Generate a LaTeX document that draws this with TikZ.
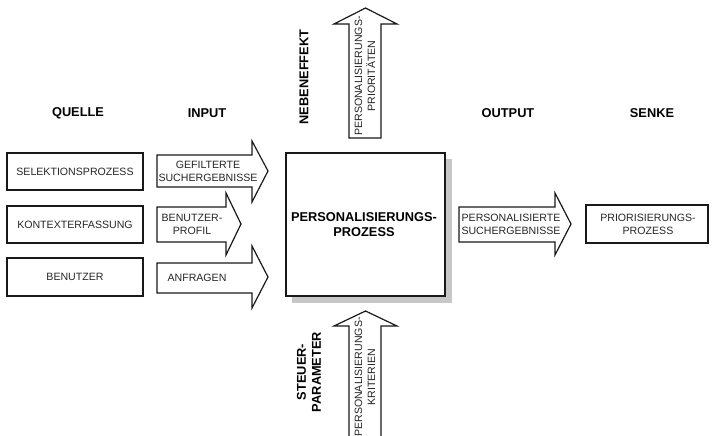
\documentclass[tikz,border=0pt]{standalone}
\usepackage{fontspec}
\setmainfont{Liberation Sans}
\begin{document}
\begin{tikzpicture}[x=1pt,y=-1pt,
  line join=miter,
  lbl/.style={font=\fontsize{10.6}{13}\selectfont, text=black!85, align=center, inner sep=0pt},
  head/.style={font=\bfseries\fontsize{12.8}{15}\selectfont, align=center, inner sep=0pt},
  srcbox/.style={draw=black!90, line width=1.2pt},
  blockarrow/.style={draw=black!90, line width=1.2pt, fill=white},
  mainbox/.style={draw=black!90, line width=2.2pt, fill=white},
  shadow/.style={fill=black!22, draw=none}]
\useasboundingbox (0,0) rectangle (713,436);

% column headings
\node[head] (hquelle) at (78,113) {QUELLE};
\node[head] (hinput)  at (207,113) {INPUT};
\node[head] (houtput) at (508,113) {OUTPUT};
\node[head] (hsenke)  at (652,113) {SENKE};
\node[head, rotate=90] (hneben) at (304,77) {NEBENEFFEKT};
\node[head, rotate=90] (hsteuer) at (309,372) {STEUER-\\PARAMETER};

% sources
\draw[srcbox] (7,153) rectangle (143,190);
\node[lbl] (sel) at (75,171.5) {SELEKTIONSPROZESS};
\draw[srcbox] (7,206) rectangle (143,243);
\node[lbl] (ktx) at (75,224.5) {KONTEXTERFASSUNG};
\draw[srcbox] (7,258) rectangle (143,296);
\node[lbl] (ben) at (75,277) {BENUTZER};

% input arrows
\draw[blockarrow] (157,155) -- (252,155) -- (252,141) -- (268,171) -- (252,202) -- (252,187) -- (157,187) -- cycle;
\node[lbl] (gef) at (208,171) {GEFILTERTE\\SUCHERGEBNISSE};
\draw[blockarrow] (157,207) -- (226,207) -- (226,193) -- (241,224) -- (226,255) -- (226,242) -- (157,242) -- cycle;
\node[lbl] (prof) at (192,224) {BENUTZER-\\PROFIL};
\draw[blockarrow] (157,263) -- (252,263) -- (252,246) -- (268,277) -- (252,308) -- (252,293) -- (157,293) -- cycle;
\node[lbl] (anf) at (197,278) {ANFRAGEN};

% central process with shadow
\fill[shadow] (292,159) rectangle (452,303);
\draw[mainbox] (286,153) rectangle (445,296);
\node[head] (proc) at (364,225) {PERSONALISIERUNGS-\\PROZESS};

% side effect arrow (top)
\draw[blockarrow] (349,138) -- (349,24) -- (334,24) -- (365.5,8) -- (397,24) -- (381,24) -- (381,138) -- cycle;
\node[lbl, rotate=90] (prio) at (365,76) {PERSONALISIERUNGS-\\PRIORITÄTEN};

% control arrow (bottom)
\draw[blockarrow] (349,440) -- (349,326) -- (334,326) -- (365.5,311) -- (397,326) -- (381,326) -- (381,440);
\node[lbl, rotate=90] (krit) at (365,377) {PERSONALISIERUNGS-\\KRITERIEN};

% output arrow
\draw[blockarrow] (459,207) -- (555,207) -- (555,193) -- (571,224) -- (555,255) -- (555,242) -- (459,242) -- cycle;
\node[lbl] (pers) at (511,224) {PERSONALISIERTE\\SUCHERGEBNISSE};

% sink
\draw[srcbox] (586,205) rectangle (708,243);
\node[lbl] (sink) at (648,224) {PRIORISIERUNGS-\\PROZESS};
\end{tikzpicture}
\end{document}
